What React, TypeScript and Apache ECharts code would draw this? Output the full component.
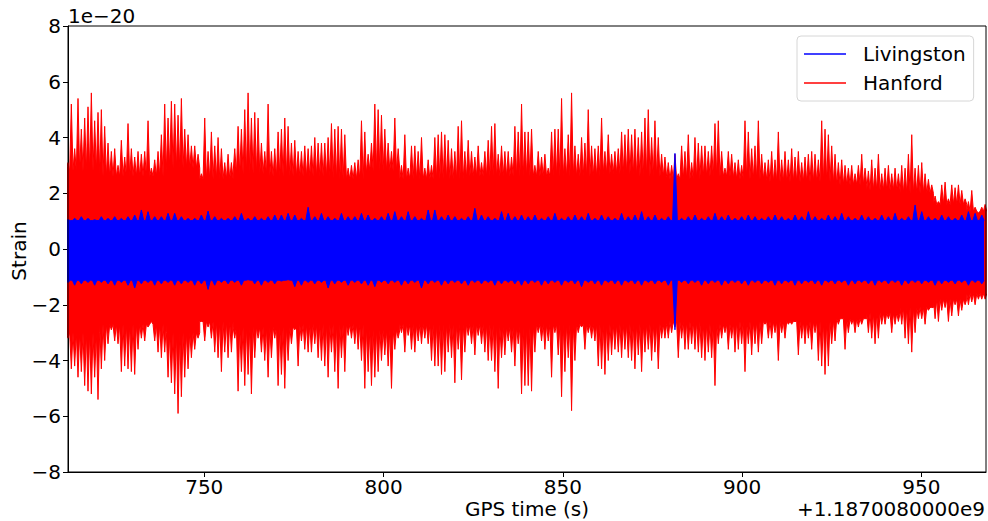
import React, { useEffect, useRef } from "react";
import * as echarts from "echarts";

// ---- axis ranges / ticks ----
const X_MIN = 712;
const X_MAX = 968;
const xTicks = [750, 800, 850, 900, 950];
const Y_MIN = -8;
const Y_MAX = 8;
const Y_STEP = 2;

// ---- sampling of the read-off envelope ----
const T0 = 712; // first reading (s, offset from 1.1870080000e9)
const DT = 0.93; // seconds between Hanford readings
const CORE_SPAN = 10; // Hanford readings per core value

// Hanford: positive spike peaks (1e-20 strain)
const hanfordTop = [
  3.1, 5.2, 3.6, 5.4, 4.3, 4.7, 5.1, 5.6, 4.6, 4.9,
  5.0, 4.4, 3.8, 3.5, 3.6, 3.0, 3.9, 3.3, 4.5, 3.6,
  3.3, 3.5, 3.4, 3.5, 4.6, 2.9, 3.2, 3.5, 4.1, 5.2,
  4.7, 5.3, 5.2, 4.8, 5.4, 4.3, 4.1, 3.7, 3.7, 3.4,
  2.7, 4.7, 3.5, 4.2, 3.7, 4.0, 3.6, 3.1, 3.4, 3.1,
  3.6, 4.4, 4.3, 5.0, 5.6, 4.7, 4.9, 4.7, 3.8, 3.5,
  5.2, 3.5, 3.6, 4.2, 4.3, 4.7, 4.4, 3.8, 3.9,
  3.5, 3.5, 3.7, 3.6, 3.7, 4.0, 3.8, 3.8, 3.8, 4.0,
  4.5, 4.3, 4.4, 4.3, 4.1, 2.9, 3.0, 3.1, 3.2, 4.6,
  4.2, 3.4, 3.8, 5.2, 5.0, 4.8, 4.3, 3.8, 3.5, 4.7,
  3.6, 3.0, 4.1, 2.9, 3.7, 3.7, 3.5, 4.0, 2.9, 3.2,
  3.0, 4.0, 4.1, 4.2, 4.1, 3.9, 3.6, 3.5, 4.4, 4.6,
  3.5, 3.9, 3.5, 3.3, 3.7, 3.1, 3.5, 3.9, 4.4, 4.5,
  3.4, 3.7, 3.5, 3.5, 3.3, 4.4, 4.2, 5.2, 4.2,
  4.2, 4.3, 3.0, 3.5, 3.3, 3.4, 2.9, 4.2, 4.3, 4.3,
  5.4, 3.6, 4.1, 5.6, 3.7, 3.4, 4.0, 3.8, 5.0, 3.7,
  3.6, 3.7, 4.7, 3.5, 4.1, 3.4, 3.5, 3.6, 4.2, 4.1,
  4.3, 4.1, 4.3, 4.0, 4.2, 4.7, 5.0, 4.0, 4.6, 4.0,
  3.4, 3.3, 3.1, 3.0, 3.4, 2.7, 3.7, 3.5, 4.1, 3.1,
  4.0, 3.8, 3.7, 3.7, 3.5, 3.7, 4.5, 4.6, 3.5, 2.9,
  3.5, 3.4, 3.1, 3.2, 3.0, 4.6, 4.2, 3.6, 3.7,
  4.6, 3.4, 3.1, 3.2, 3.5, 3.2, 4.2, 3.2, 3.5, 3.2,
  3.6, 3.3, 3.5, 3.1, 3.3, 3.4, 3.5, 3.4, 3.2, 4.6,
  4.3, 4.1, 3.7, 3.4, 3.1, 3.2, 3.0, 2.9, 3.0, 2.7,
  3.0, 3.4, 2.9, 2.8, 3.2, 2.9, 3.4, 2.7, 2.9, 3.0,
  2.7, 2.9, 2.7, 3.0, 2.9, 3.4, 4.1, 2.9, 3.0, 3.1,
  2.7, 2.5, 2.3, 1.9, 1.7, 2.3, 2.4, 1.8, 2.3, 2.2,
  2.3, 2.1, 1.8, 1.7, 2.1, 1.5, 1.3, 1.5, 1.6,
];

// Hanford: negative spike troughs
const hanfordBottom = [
  -3.2, -4.3, -4.2, -4.6, -4.4, -4.9, -5.1, -5.2, -4.6, -5.4,
  -4.3, -4.0, -3.4, -2.9, -3.3, -3.4, -4.4, -4.2, -4.3, -4.4,
  -4.5, -3.6, -3.2, -3.3, -2.8, -2.6, -3.3, -3.7, -3.9, -3.7,
  -4.6, -4.8, -5.2, -5.9, -5.3, -4.6, -4.3, -3.9, -3.6, -3.2,
  -2.6, -3.3, -2.8, -3.2, -3.7, -3.9, -4.4, -3.7, -3.9, -3.7,
  -3.2, -5.1, -4.4, -4.9, -4.5, -5.2, -3.9, -3.2, -3.7, -4.0,
  -4.6, -3.9, -3.2, -4.9, -4.5, -5.0, -4.0, -3.4, -2.9,
  -4.2, -3.3, -3.6, -3.7, -3.7, -3.4, -3.9, -4.0, -4.2, -4.6,
  -3.7, -4.4, -5.0, -3.9, -4.4, -3.1, -3.2, -3.4, -3.6, -4.0,
  -5.0, -4.4, -4.9, -4.6, -4.4, -4.0, -3.8, -4.2, -5.0, -3.6,
  -3.2, -3.0, -3.7, -3.1, -3.6, -3.7, -3.3, -3.4, -3.2, -3.4,
  -4.0, -4.2, -4.2, -4.5, -4.4, -3.7, -3.9, -4.8, -3.6, -4.7,
  -3.7, -3.1, -3.4, -3.8, -3.1, -3.4, -3.7, -4.0, -4.0, -4.4,
  -5.0, -3.9, -3.8, -3.3, -3.7, -4.2, -3.4, -5.2, -4.9,
  -4.9, -5.1, -3.7, -3.0, -3.3, -3.6, -3.3, -4.6, -3.0, -3.8,
  -5.3, -4.4, -3.9, -5.8, -4.0, -3.0, -2.8, -3.6, -3.0, -3.2,
  -3.3, -4.2, -4.3, -4.5, -4.0, -3.8, -3.6, -3.7, -3.9, -3.6,
  -3.9, -4.0, -4.3, -3.8, -4.4, -3.7, -3.6, -4.0, -3.7, -4.3,
  -3.2, -3.2, -3.2, -3.0, -2.8, -3.9, -3.2, -3.6, -3.6, -3.4,
  -3.6, -3.7, -3.9, -4.0, -3.7, -3.9, -4.9, -3.4, -3.2, -3.0,
  -3.6, -3.2, -3.7, -3.6, -3.4, -4.4, -3.4, -3.8, -3.4,
  -3.7, -3.4, -2.7, -3.2, -3.2, -3.0, -4.0, -3.0, -3.2, -2.7,
  -2.7, -2.6, -3.8, -3.2, -3.4, -3.2, -3.6, -3.0, -4.0, -4.2,
  -4.5, -4.2, -3.4, -3.3, -2.7, -2.5, -3.6, -3.0, -2.7, -3.0,
  -2.8, -2.7, -2.5, -3.0, -3.2, -3.4, -3.2, -2.7, -2.7, -2.5,
  -3.0, -2.7, -2.6, -2.7, -3.2, -3.4, -3.7, -3.0, -2.5, -2.5,
  -2.7, -2.2, -2.1, -2.5, -2.6, -2.2, -2.1, -2.6, -2.4, -2.0,
  -2.4, -2.2, -2.0, -2.0, -1.9, -2.0, -1.8, -1.8, -1.8,
];

// Hanford: level of the solid band between spikes (one value per CORE_SPAN readings)
const hanfordCoreTop = [
  2.8, 2.6, 2.6, 2.9, 2.5, 2.7, 2.6, 2.6, 2.5, 2.8,
  2.5, 2.5, 2.6, 2.6, 2.6, 2.6, 2.7, 2.6, 2.5, 2.6,
  2.5, 2.4, 2.4, 2.3, 2.1, 2.0, 1.6, 1.35,
];
const hanfordCoreBottom = [
  -3.0, -2.7, -2.7, -3.0, -2.6, -2.8, -2.8, -2.7, -2.7, -2.9,
  -2.7, -2.7, -2.7, -2.8, -2.7, -2.7, -2.7, -2.7, -2.6, -2.7,
  -2.6, -2.6, -2.6, -2.5, -2.3, -2.1, -1.8, -1.6,
];

// Livingston: spike peaks (one per 2 Hanford readings) and band level
const livingstonTop = [
  1.05, 1.1, 1.16, 1.1, 1.05, 1.16, 1.1, 1.16, 1.1, 1.16,
  1.22, 1.4, 1.34, 1.16, 1.16, 1.28, 1.28, 1.16, 1.1, 1.1,
  1.22, 1.36, 1.16, 1.1, 1.1, 1.16, 1.28, 1.1, 1.16, 1.1,
  1.16, 1.22, 1.22, 1.28, 1.22,
  1.1, 1.5, 1.16, 1.28, 1.16, 1.1, 1.28, 1.16, 1.16, 1.28,
  1.22, 1.1, 1.16, 1.28, 1.34, 1.16, 1.34, 1.16, 1.1, 1.4,
  1.4, 1.16, 1.22, 1.16, 1.1, 1.16, 1.46, 1.22, 1.16, 1.1,
  1.34, 1.28, 1.16, 1.22,
  1.16, 1.22, 1.1, 1.16, 1.28, 1.1, 1.16, 1.22, 1.16, 1.28,
  1.1, 1.22, 1.16, 1.1, 1.28, 1.16, 1.22, 1.34, 1.16, 1.22,
  1.1, 1.16, 3.43, 1.1, 1.16, 1.22, 1.1, 1.16, 1.28, 1.16,
  1.22, 1.1, 1.16, 1.22,
  1.16, 1.1, 1.16, 1.22, 1.16, 1.1, 1.22, 1.16, 1.34, 1.16,
  1.1, 1.22, 1.16, 1.28, 1.16, 1.1, 1.22, 1.16, 1.1, 1.22,
  1.16, 1.28, 1.1, 1.16, 1.58, 1.34, 1.16, 1.1, 1.22, 1.16,
  1.1, 1.22, 1.34, 1.28, 1.22,
];
const livingstonBottom = [
  -1.2, -1.3, -1.25, -1.2, -1.3, -1.2, -1.25, -1.3, -1.2, -1.3,
  -1.4, -1.25, -1.2, -1.3, -1.25, -1.2, -1.3, -1.25, -1.2, -1.3,
  -1.25, -1.45, -1.3, -1.2, -1.25, -1.2, -1.3, -1.1, -1.25, -1.3,
  -1.2, -1.25, -1.15, -1.1, -1.35,
  -1.3, -1.2, -1.25, -1.2, -1.4, -1.25, -1.2, -1.3, -1.2, -1.25,
  -1.3, -1.35, -1.2, -1.25, -1.2, -1.3, -1.25, -1.2, -1.4, -1.25,
  -1.2, -1.3, -1.25, -1.2, -1.25, -1.3, -1.2, -1.25, -1.2, -1.3,
  -1.25, -1.2, -1.25, -1.3,
  -1.25, -1.2, -1.3, -1.25, -1.2, -1.3, -1.2, -1.25, -1.35, -1.2,
  -1.25, -1.3, -1.2, -1.25, -1.3, -1.2, -1.25, -1.3, -1.2, -1.25,
  -1.2, -1.3, -2.9, -1.2, -1.25, -1.2, -1.3, -1.25, -1.2, -1.3,
  -1.25, -1.2, -1.25, -1.3,
  -1.2, -1.25, -1.2, -1.3, -1.25, -1.2, -1.3, -1.25, -1.2, -1.25,
  -1.3, -1.2, -1.25, -1.2, -1.3, -1.25, -1.2, -1.25, -1.3, -1.2,
  -1.25, -1.2, -1.3, -1.25, -1.2, -1.25, -1.2, -1.3, -1.25, -1.2,
  -1.25, -1.2, -1.3, -1.2, -1.25,
];
const livingstonCoreTop = [1.02];
const livingstonCoreBottom = [-1.12];

const RED = "#ff0000";
const BLUE = "#0000ff";
const FONT = "DejaVu Sans";

function edge(peaks: number[], cores: number[], span: number, step: number, half: number) {
  const pts: number[][] = [];
  peaks.forEach((p, k) => {
    const t = T0 + k * step;
    const c = cores[Math.min(cores.length - 1, Math.floor(k / span))];
    pts.push([t - half * step, c], [t, p], [t + half * step, c]);
  });
  return pts;
}

function band(name: string, color: string, data: number[][], z: number) {
  return {
    type: "line",
    name,
    data,
    symbol: "none",
    showSymbol: false,
    silent: true,
    clip: true,
    z,
    itemStyle: { color },
    lineStyle: { color, width: 1 },
    areaStyle: { color, opacity: 1 },
  };
}

export default function App() {
  const ref = useRef<HTMLDivElement>(null);
  useEffect(() => {
    document.body.style.margin = "0";
    const chart = echarts.init(ref.current!, undefined, { renderer: "svg" });
    const LDT = 2 * DT;
    chart.setOption({
      animation: false,
      backgroundColor: "#ffffff",
      textStyle: { fontFamily: FONT },
      grid: { left: 68, top: 26, right: 2, bottom: 49, containLabel: false },
      legend: {
        data: ["Livingston", "Hanford"],
        orient: "vertical",
        left: 797,
        top: 36,
        padding: [8, 8, 8, 7],
        itemGap: 9,
        icon: "rect",
        itemWidth: 42,
        itemHeight: 1.5,
        backgroundColor: "#ffffff",
        borderColor: "#d6d6d6",
        borderWidth: 1,
        borderRadius: 4,
        textStyle: { fontSize: 20, fontFamily: FONT, color: "#000", padding: [0, 0, 0, 12], lineHeight: 20 },
      },
      xAxis: {
        type: "value",
        min: X_MIN,
        max: X_MAX,
        splitLine: { show: false },
        axisLine: { show: true, onZero: false, lineStyle: { color: "#000", width: 1 } },
        axisTick: { show: true, length: 5, lineStyle: { color: "#000" }, customValues: xTicks },
        axisLabel: { fontSize: 20, color: "#000", margin: 5, lineHeight: 20, fontFamily: FONT, customValues: xTicks },
      },
      yAxis: {
        type: "value",
        min: Y_MIN,
        max: Y_MAX,
        interval: Y_STEP,
        splitLine: { show: false },
        axisLine: { show: true, onZero: false, lineStyle: { color: "#000", width: 1 } },
        axisTick: { show: true, length: 5, lineStyle: { color: "#000" } },
        axisLabel: {
          fontSize: 20,
          color: "#000",
          margin: 7,
          fontFamily: FONT,
          formatter: (v: number) => String(v).replace("-", "\u2212"),
        },
      },
      series: [
        band("Hanford", RED, edge(hanfordTop, hanfordCoreTop, CORE_SPAN, DT, 0.5), 2),
        band("Hanford", RED, edge(hanfordBottom, hanfordCoreBottom, CORE_SPAN, DT, 0.5), 2),
        band("Livingston", BLUE, edge(livingstonTop, livingstonCoreTop, 1e9, LDT, 0.35), 3),
        band("Livingston", BLUE, edge(livingstonBottom, livingstonCoreBottom, 1e9, LDT, 0.35), 3),
      ],
      graphic: [
        {
          type: "rect",
          z: 100,
          silent: true,
          shape: { x: 68, y: 26, width: 918, height: 446 },
          style: { fill: "none", stroke: "#000", lineWidth: 1 },
        },
        {
          type: "text",
          x: 68,
          y: 16,
          style: { text: "1e\u221220", fontSize: 20, fontFamily: FONT, fill: "#000", textAlign: "left", textVerticalAlign: "middle" },
        },
        {
          type: "text",
          x: 19,
          y: 251,
          rotation: Math.PI / 2,
          style: { text: "Strain", fontSize: 20, fontFamily: FONT, fill: "#000", textAlign: "center", textVerticalAlign: "middle" },
        },
        {
          type: "text",
          x: 527,
          y: 509,
          style: { text: "GPS time (s)", fontSize: 20, fontFamily: FONT, fill: "#000", textAlign: "center", textVerticalAlign: "middle" },
        },
        {
          type: "text",
          x: 985,
          y: 509,
          style: { text: "+1.1870080000e9", fontSize: 20, fontFamily: FONT, fill: "#000", textAlign: "right", textVerticalAlign: "middle" },
        },
      ],
    });
    return () => chart.dispose();
  }, []);
  return <div ref={ref} style={{ position: "absolute", left: 0, top: 0, width: 988, height: 521 }} />;
}
